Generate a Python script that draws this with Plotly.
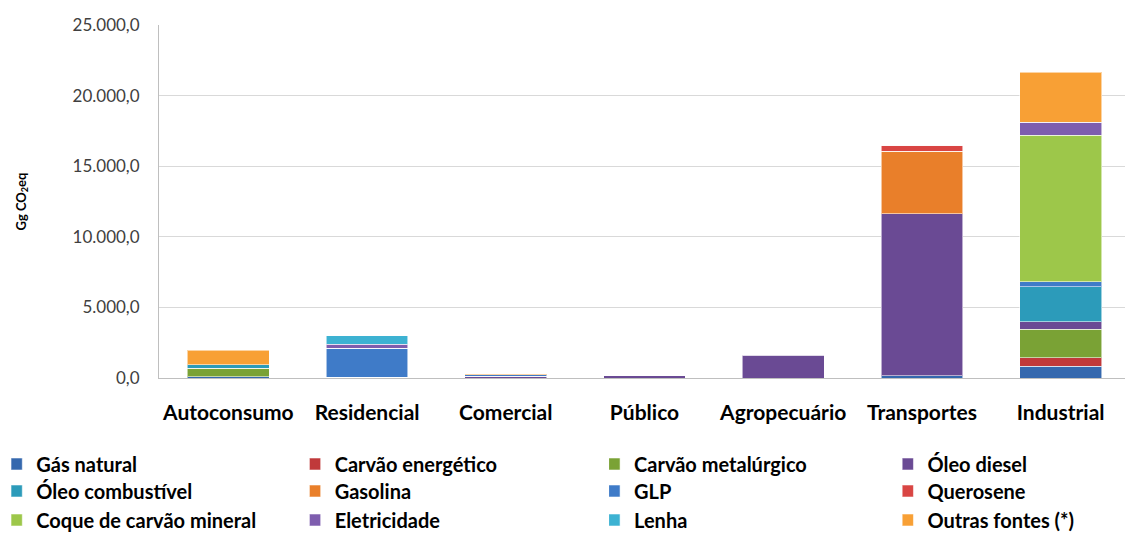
import plotly.graph_objects as go

categories = ["Autoconsumo", "Residencial", "Comercial", "Público", "Agropecuário", "Transportes", "Industrial"]

series_names = [
    "Gás natural", "Carvão energético", "Carvão metalúrgico", "Óleo diesel",
    "Óleo combustível", "Gasolina", "GLP", "Querosene",
    "Coque de carvão mineral", "Eletricidade", "Lenha", "Outras fontes (*)",
]

gas_natural = [100, 60, 0, 0, 0, 150, 850]
carvao_energetico = [0, 0, 0, 0, 0, 0, 570]
carvao_metalurgico = [600, 0, 0, 0, 0, 0, 2050]
oleo_diesel = [0, 0, 120, 150, 1620, 11500, 500]
oleo_combustivel = [250, 0, 0, 0, 60, 0, 2480]
gasolina = [0, 0, 0, 0, 0, 4400, 0]
glp = [0, 2050, 100, 0, 0, 0, 350]
querosene = [0, 0, 20, 0, 0, 420, 0]
coque = [0, 0, 0, 0, 0, 0, 10400]
eletricidade = [0, 280, 0, 0, 0, 0, 920]
lenha = [0, 620, 0, 0, 0, 0, 0]
outras_fontes = [1000, 0, 30, 0, 0, 0, 3540]

series_values = [
    gas_natural, carvao_energetico, carvao_metalurgico, oleo_diesel,
    oleo_combustivel, gasolina, glp, querosene,
    coque, eletricidade, lenha, outras_fontes,
]

colors = [
    "#3568AE", "#C0393A", "#7AA235", "#6A4A94",
    "#2C9BBA", "#E97F2A", "#3F7BC8", "#D94543",
    "#9DC74A", "#7E5DAE", "#3DB2D2", "#F8A035",
]

# the page body adds an 8px offset, so the figure is sized to fit the window
W, H = 1125, 541
ML, MR, MT, MB = 149, 3, 17, 171
PW, PH = W - ML - MR, H - MT - MB
# legend grid (4 columns x 3 rows, row-major like the reference), figure px
col_left_px = [1, 300, 600, 894]
row_mid_px = [456, 483, 512]

fig = go.Figure()
layout_legends = {}
for i, (name, vals, col) in enumerate(zip(series_names, series_values, colors)):
    key = "legend" if i == 0 else f"legend{i + 1}"
    fig.add_trace(go.Bar(
        x=categories, y=vals, name=name, legend=key,
        marker=dict(color=col, line=dict(color="rgba(255,255,255,0.55)", width=1)),
    ))
    r, c = divmod(i, 4)
    layout_legends[key] = dict(
        xref="paper", yref="paper", orientation="h",
        x=(col_left_px[c] - ML) / PW, xanchor="left",
        y=(H - MB - row_mid_px[r]) / PH, yanchor="middle",
        itemwidth=30, indentation=-15,
        font=dict(family="Lato", size=20, color="#000000", weight="bold"),
        itemclick=False, itemdoubleclick=False,
        bgcolor="rgba(0,0,0,0)",
    )

fig.update_layout(
    barmode="stack",
    bargap=0.41,
    width=W, height=H,
    margin=dict(l=ML, r=MR, t=MT, b=MB),
    plot_bgcolor="white",
    paper_bgcolor="white",
    separators=",.",
    font=dict(family="Lato", color="#000000"),
    showlegend=True,
    **layout_legends,
)

fig.update_xaxes(
    automargin=False,
    showline=True, linecolor="#BFBFBF", linewidth=1,
    tickfont=dict(family="Lato", size=21, color="#000000", weight="bold"),
    ticks="", ticklabelstandoff=16,
)
fig.update_yaxes(
    automargin=False,
    range=[0, 25000], dtick=5000, tickformat=",.1f",
    showgrid=True, gridcolor="#D9D9D9", gridwidth=1,
    showline=True, linecolor="#BFBFBF", linewidth=1,
    zeroline=False,
    tickfont=dict(family="Lato", size=17, color="#404040"),
    ticklabelstandoff=15,
    title=dict(text="Gg CO<sub>2</sub>eq", font=dict(family="Lato", size=13, color="#000000", weight="bold"), standoff=43),
)

fig.write_html("out.html")
